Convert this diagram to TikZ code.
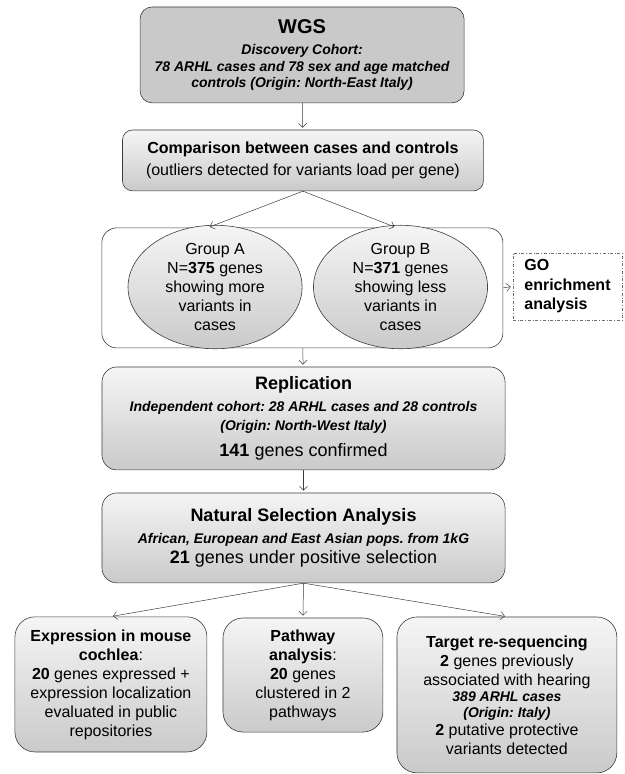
\documentclass[tikz,border=0pt]{standalone}
\usepackage{fontspec}
\setmainfont{Liberation Sans}
\usepackage{xcolor}
\usetikzlibrary{shapes.geometric, arrows.meta}
\definecolor{edge-gray}{HTML}{3C3C3C}
\definecolor{wgs-gray}{HTML}{C9C9C9}
\definecolor{shade-top}{HTML}{F5F5F5}
\definecolor{shade-bottom}{HTML}{CACACA}
\definecolor{go-gray}{HTML}{707070}

\newcommand{\hdsize}{\fontsize{18}{21}\selectfont}
\newcommand{\bodysize}{\fontsize{16}{19}\selectfont}
\newcommand{\cohortsize}{\fontsize{14}{16.5}\selectfont}
\newcommand{\smallcohort}{\fontsize{14}{16}\selectfont\bfseries\itshape}
\frenchspacing

\begin{document}
\begin{tikzpicture}[>={Straight Barb[length=4pt,width=8pt]},
      every node/.style={font=\bodysize},
      flowbox/.style={draw=edge-gray, line width=0.6pt, rounded corners=15pt, align=center,
                      top color=shade-top, bottom color=shade-bottom},
      groupoval/.style={ellipse, draw=edge-gray, line width=0.6pt, align=center, inner sep=0pt,
                        top color=shade-top, bottom color=shade-bottom,
                        minimum width=6.12cm, minimum height=3.87cm},
      link/.style={->, draw=edge-gray, line width=0.5pt, shorten >=2pt}]
    \useasboundingbox (0,0) rectangle (21.97,-27.21);
    \node[draw=edge-gray, line width=0.6pt, fill=wgs-gray, rounded corners=12pt, align=center,
          minimum width=11.39cm, minimum height=3.37cm, font=\cohortsize\bfseries\itshape] (WGS) at (10.62,-1.93)
          {{\fontsize{20}{24}\selectfont\upshape WGS}\\[5pt]Discovery Cohort:\\78 ARHL cases and 78 sex and age matched\\controls (Origin: North-East Italy)};
    \node[flowbox, rounded corners=10pt, minimum width=12.69cm, minimum height=2.14cm,
          font=\fontsize{16}{21.5}\selectfont] (CMP) at (10.65,-5.64)
          {\textbf{Comparison between cases and controls}\\(outliers detected for variants load per gene)};
    \node[draw=edge-gray, line width=0.6pt, fill=white, rounded corners=15pt,
          minimum width=14.10cm, minimum height=4.22cm] (GRP) at (10.63,-10.12) {};
    \node[groupoval] (GRPA) at (7.56,-10.09) {Group A\\N=\textbf{375} genes\\showing more\\variants in\\cases};
    \node[groupoval] (GRPB) at (14.08,-10.09) {Group B\\N=\textbf{371} genes\\showing less\\variants in\\cases};
    \node[draw=go-gray, dash dot, line width=0.6pt, align=left, minimum width=3.83cm, minimum height=2.36cm,
          font=\fontsize{16}{19.5}\selectfont\bfseries] (GO) at (19.95,-10.07) {GO\\enrichment\\analysis};
    \node[flowbox, minimum width=14.17cm, minimum height=3.62cm,
          font=\fontsize{14}{19}\selectfont\bfseries\itshape] (REP) at (10.67,-14.71)
          {{\hdsize\upshape Replication}\\[3pt]Independent cohort: 28 ARHL cases and 28 controls\\(Origin: North-West Italy)\\[7pt]{\hdsize\upshape 141 \mdseries genes confirmed}};
    \node[flowbox, minimum width=14.17cm, minimum height=3.16cm,
          font=\fontsize{14}{20}\selectfont\bfseries\itshape] (NSA) at (10.67,-18.91)
          {{\hdsize\upshape Natural Selection Analysis}\\[2pt]African, European and East Asian pops. from 1kG\\{\hdsize\upshape 21 \mdseries genes under positive selection}};
    \node[flowbox, rounded corners=20pt, minimum width=6.75cm, minimum height=4.75cm] (EXPR) at (3.90,-24.06)
          {\textbf{Expression in mouse}\\\textbf{cochlea}:\\\textbf{20} genes expressed +\\expression localization\\evaluated in public\\repositories};
    \node[flowbox, rounded corners=20pt, minimum width=5.62cm, minimum height=4.01cm] (PATH) at (10.65,-23.73)
          {\textbf{Pathway}\\\textbf{analysis}:\\\textbf{20} genes\\clustered in 2\\pathways};
    \node[flowbox, rounded corners=20pt, minimum width=7.73cm, minimum height=5.48cm] (TSEQ) at (17.82,-24.43)
          {\textbf{Target re-sequencing}\\\textbf{2} genes previously\\associated with hearing\\[-3pt]{\smallcohort 389 ARHL cases}\\[-3pt]{\smallcohort (Origin: Italy)}\\[-1pt]\textbf{2} putative protective\\variants detected};
    \draw[link] (WGS) -- (CMP);
    \draw[link] (CMP.south) -- ([xshift=-0.25cm]GRPA.north |- GRP.north);
    \draw[link] (CMP.south) -- ([xshift=-0.15cm]GRPB.north |- GRP.north);
    \draw[link] (GRP) -- (REP);
    \draw[link] (GRP.east) -- (GO.west);
    \draw[link] (REP) -- (NSA);
    \draw[link] (NSA.south) -- (EXPR.north);
    \draw[link] (NSA.south) -- (PATH.north);
    \draw[link] (NSA.south) -- (TSEQ.north);
  \end{tikzpicture}
\end{document}
